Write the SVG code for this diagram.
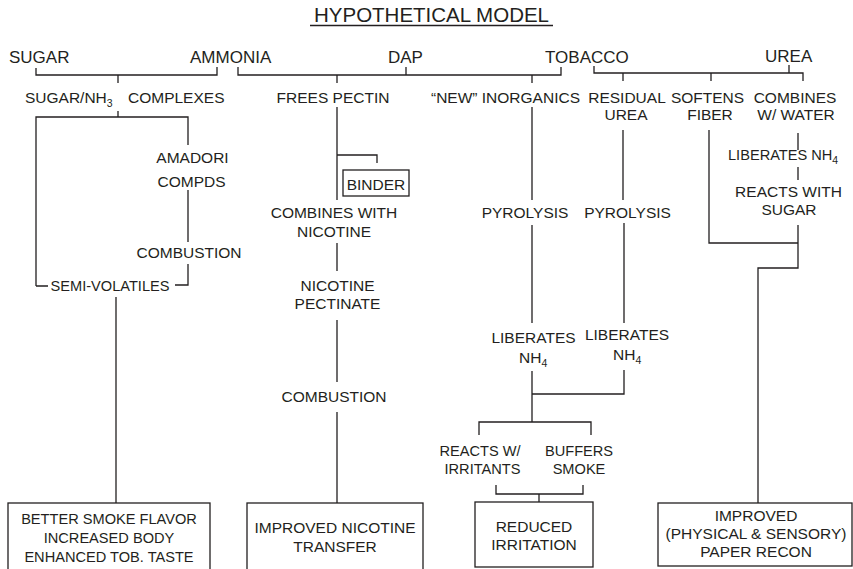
<svg xmlns="http://www.w3.org/2000/svg" width="853" height="569" viewBox="0 0 853 569">
<style>
text{font-family:"Liberation Sans",Arial,sans-serif;fill:#231f20;font-size:15.5px}
.top{font-size:17px}
.title{font-size:20.5px}
.sm{font-size:14.6px}
.m{text-anchor:middle}
.sub{font-size:10.5px}
.ln{fill:none;stroke:#231f20;stroke-width:1.3}
.box{fill:#fff;stroke:#231f20;stroke-width:1.3}
</style>
<rect width="853" height="569" fill="#fff"/>
<g id="title">
<text class="title m" x="431.5" y="22">HYPOTHETICAL MODEL</text>
<line class="ln" x1="310" y1="25.5" x2="553" y2="25.5"/>
</g>
<g id="connectors" class="ln">
<path d="M36 68V75H217V67M118 75V83"/>
<path d="M238 67V75H561V67M406 67V75M337 75V83M532 75V83"/>
<path d="M594 66V73H803V81M789 65V73M623 73V81M711 73V81"/>
<path d="M118 111V117M36 286V117H188V145M36 286H48"/>
<path d="M188 190V242M188 264V285H175"/>
<path d="M116 297V503"/>
<path d="M337 107V200M337 155H377V163M337 243V271M337 320V382M337 412V503"/>
<path d="M532 107V200M532 225V323M532 371V422M624 370V394H532M479 435V422H591V435"/>
<path d="M623 130V200M624 223V323"/>
<path d="M709 130V243H798"/>
<path d="M798 133V150M798 167V180M798 225V268H758V503"/>
<path d="M496 485V494H583V485M539 494V502"/>
</g>
<g id="sugar"><text class="top" x="9" y="63">SUGAR</text></g>
<g id="ammonia"><text class="top" x="190" y="63">AMMONIA</text></g>
<g id="dap"><text class="top" x="388" y="63">DAP</text></g>
<g id="tobacco"><text class="top" x="545" y="63">TOBACCO</text></g>
<g id="urea"><text class="top" x="765" y="62">UREA</text></g>
<g id="complexes"><text x="25" y="103">SUGAR/NH<tspan class="sub" dy="4">3</tspan><tspan x="128" dy="-4">COMPLEXES</tspan></text></g>
<g id="frees-pectin"><text class="m" x="333" y="103">FREES PECTIN</text></g>
<g id="new-inorganics"><text class="m" x="505.5" y="103">“NEW” INORGANICS</text></g>
<g id="residual-urea"><text class="m" x="627" y="103">RESIDUAL</text><text class="m" x="626" y="120">UREA</text></g>
<g id="softens-fiber"><text class="m" x="707.5" y="103">SOFTENS</text><text class="m" x="710" y="120">FIBER</text></g>
<g id="combines-water"><text class="m" x="795" y="103">COMBINES</text><text class="m" x="796" y="120">W/ WATER</text></g>
<g id="liberates-right"><text class="sm" x="728" y="160">LIBERATES NH<tspan class="sub" dy="4">4</tspan></text></g>
<g id="reacts-sugar"><text class="m" x="788.5" y="197">REACTS WITH</text><text class="m" x="789" y="215">SUGAR</text></g>
<g id="amadori"><text class="m" x="192.5" y="163">AMADORI</text><text class="m" x="191.5" y="187">COMPDS</text></g>
<g id="combustion-left"><text class="m" x="189" y="258">COMBUSTION</text></g>
<g id="semi-volatiles"><text class="sm m" x="110" y="291">SEMI-VOLATILES</text></g>
<g id="binder"><rect class="box" x="343" y="170" width="66" height="26"/><text class="m" x="376" y="190">BINDER</text></g>
<g id="combines-nicotine"><text class="m" x="334" y="218">COMBINES WITH</text><text class="m" x="334" y="237">NICOTINE</text></g>
<g id="nicotine-pectinate"><text class="m" x="337.5" y="291">NICOTINE</text><text class="m" x="337.5" y="309">PECTINATE</text></g>
<g id="combustion-mid"><text class="m" x="334" y="402">COMBUSTION</text></g>
<g id="pyrolysis-1"><text class="m" x="525" y="218">PYROLYSIS</text></g>
<g id="pyrolysis-2"><text class="m" x="627.5" y="218">PYROLYSIS</text></g>
<g id="liberates-1"><text class="m" x="533.5" y="343">LIBERATES</text><text x="519" y="363">NH<tspan class="sub" dy="4">4</tspan></text></g>
<g id="liberates-2"><text class="m" x="627" y="340">LIBERATES</text><text x="613" y="360">NH<tspan class="sub" dy="4">4</tspan></text></g>
<g id="reacts-irritants"><text class="sm m" x="480" y="456">REACTS W/</text><text class="sm m" x="482.5" y="474">IRRITANTS</text></g>
<g id="buffers-smoke"><text class="sm m" x="579" y="456">BUFFERS</text><text class="sm m" x="579" y="474">SMOKE</text></g>
<g id="box-flavor"><rect class="box" x="8" y="503" width="202" height="70"/>
<text class="sm m" x="109" y="524">BETTER SMOKE FLAVOR</text><text class="sm m" x="109" y="543">INCREASED BODY</text><text class="sm m" x="109" y="562">ENHANCED TOB. TASTE</text></g>
<g id="box-nicotine"><rect class="box" x="247" y="503" width="176" height="70"/>
<text class="m" x="335" y="533">IMPROVED NICOTINE</text><text class="m" x="335" y="552">TRANSFER</text></g>
<g id="box-irritation"><rect class="box" x="475" y="502" width="118" height="65"/>
<text class="m" x="534" y="532">REDUCED</text><text class="m" x="534" y="550">IRRITATION</text></g>
<g id="box-paper"><rect class="box" x="658" y="503" width="194" height="63"/>
<text class="m" x="756" y="521">IMPROVED</text><text class="m" x="756" y="539">(PHYSICAL &amp; SENSORY)</text><text class="m" x="756" y="557">PAPER RECON</text></g>
</svg>
